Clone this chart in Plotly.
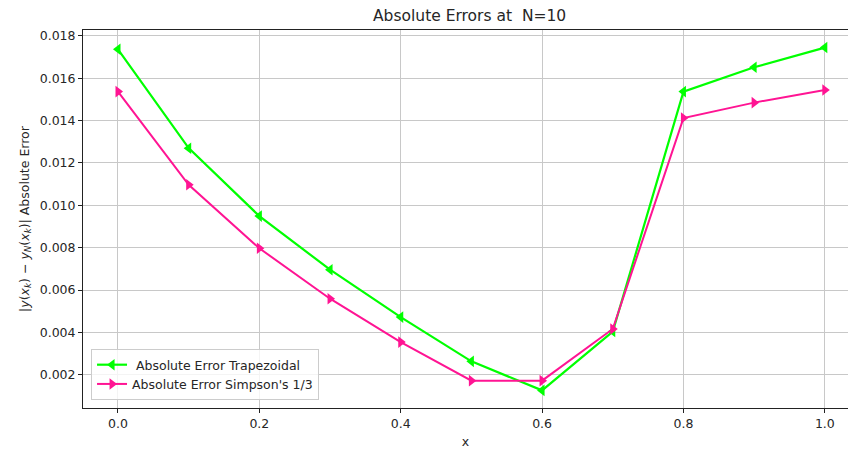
import plotly.graph_objects as go

x_vals = [0.0, 0.1, 0.2, 0.3, 0.4, 0.5, 0.6, 0.7, 0.8, 0.9, 1.0]
err_trap = [0.01737, 0.0127, 0.00949, 0.00696, 0.00472, 0.00263, 0.00126, 0.00404, 0.01537, 0.01652, 0.01745]
err_simp = [0.01537, 0.01097, 0.00797, 0.00559, 0.00354, 0.00172, 0.00172, 0.00416, 0.01412, 0.01485, 0.01545]
y_ticks = [0.002, 0.004, 0.006, 0.008, 0.010, 0.012, 0.014, 0.016, 0.018]
x_ticks = [0.0, 0.2, 0.4, 0.6, 0.8, 1.0]

FONT = "DejaVu Sans"
FS = 12.5

fig = go.Figure()
fig.add_trace(go.Scatter(
    x=x_vals, y=err_trap, mode="lines+markers",
    name=" Absolute Error Trapezoidal",
    line=dict(color="#00ff00", width=2.2),
    marker=dict(symbol="triangle-left", size=10, color="#00ff00"),
))
fig.add_trace(go.Scatter(
    x=x_vals, y=err_simp, mode="lines+markers",
    name="Absolute Error Simpson's 1/3",
    line=dict(color="#ff1493", width=2),
    marker=dict(symbol="triangle-right", size=10, color="#ff1493"),
))

fig.update_layout(
    width=848, height=452,
    margin=dict(l=83, r=0, t=30, b=44),
    paper_bgcolor="white", plot_bgcolor="white",
    font=dict(family=FONT, size=FS, color="#262626"),
    showlegend=True,
    legend=dict(
        x=0.0105, y=0.021, xanchor="left", yanchor="bottom",
        bgcolor="rgba(255,255,255,0.8)", bordercolor="#cccccc", borderwidth=1,
        font=dict(family=FONT, size=FS, color="#262626"),
        tracegroupgap=0, itemwidth=30,
    ),
    annotations=[dict(
        text="Absolute Errors at  N=10", xref="paper", yref="paper",
        x=0.505, y=1.0, xanchor="center", yanchor="bottom", yshift=3,
        showarrow=False, font=dict(family=FONT, size=15.5, color="#262626"),
    )],
)

fig.update_xaxes(
    range=[-0.0495, 1.0328], tickvals=x_ticks, ticktext=[f"{v:.1f}" for v in x_ticks],
    showgrid=True, gridcolor="#c8c8c8", gridwidth=1,
    showline=True, linecolor="#222222", linewidth=1, mirror=True,
    ticks="outside", ticklen=4, tickcolor="#222222", zeroline=False,
    title=dict(text="x", font=dict(family=FONT, size=FS, color="#262626"), standoff=7),
)
fig.update_yaxes(
    range=[0.000428, 0.01828], tickvals=y_ticks, ticktext=[f"{v:.3f}" for v in y_ticks],
    showgrid=True, gridcolor="#c8c8c8", gridwidth=1,
    showline=True, linecolor="#222222", linewidth=1,
    ticks="outside", ticklen=4, tickcolor="#222222", zeroline=False,
    title=dict(
        text="|<i>y</i>(<i>x<sub>k</sub></i>) − <i>y<sub>N</sub></i>(<i>x<sub>k</sub></i>)| Absolute Error",
        font=dict(family=FONT, size=FS, color="#262626"), standoff=7,
    ),
)

fig.write_html("out.html")
